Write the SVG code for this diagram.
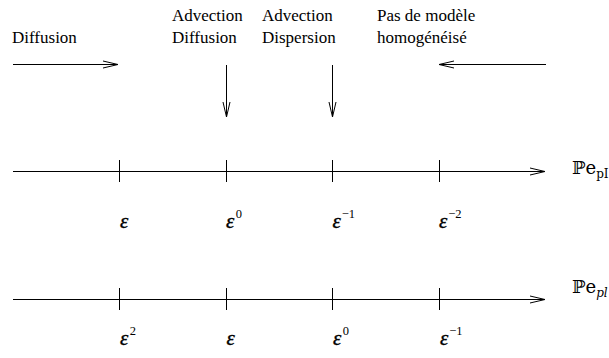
<svg xmlns="http://www.w3.org/2000/svg" width="609" height="358" viewBox="0 0 609 358">
<style>
.ln{stroke:#000;stroke-width:1;fill:none}
.ep{font-style:italic;font-size:21px;stroke:#000;stroke-width:0.4}
.sp{font-size:12.5px}
</style>
<rect width="609" height="358" fill="#fff"/>
<g font-family="'Liberation Serif', Tinos, 'Times New Roman', 'DejaVu Serif', serif" fill="#000">
<g id="labels" font-size="17">
  <g id="lab-diffusion"><text x="12" y="43">Diffusion</text></g>
  <g id="lab-adv-diff"><text x="172" y="21">Advection</text><text x="172" y="43">Diffusion</text></g>
  <g id="lab-adv-disp"><text x="262" y="21">Advection</text><text x="262" y="43">Dispersion</text></g>
  <g id="lab-pas"><text x="377" y="21">Pas de modèle</text><text x="377" y="43">homogénéisé</text></g>
</g>
<g id="connectors">
  <path class="ln" d="M13 64.5H118M103 61L118 64.5L103 68"/>
  <path class="ln" d="M546 64.5H439M454 61L439 64.5L454 68"/>
  <path class="ln" d="M226.5 65V117M223 102L226.5 117L230 102"/>
  <path class="ln" d="M332.5 65V117M329 102L332.5 117L336 102"/>
</g>
<g id="axis1">
  <path class="ln" d="M13 171.5H545M530 168L545 171.5L530 175"/>
  <path class="ln" d="M119.5 160V182M226.5 160V182M332.5 160V182M439.5 160V182"/>
  <text x="572" y="174" font-size="18" font-family="'DejaVu Serif', serif">ℙe<tspan font-size="12" dy="3.5">pI</tspan></text>
</g>
<g id="axis1-labels">
  <text x="120" y="227.5"><tspan class="ep">ε</tspan></text>
  <text x="226" y="227.5"><tspan class="ep">ε</tspan><tspan class="sp" dx="1.5" dy="-10">0</tspan></text>
  <text x="332.5" y="227.5"><tspan class="ep">ε</tspan><tspan class="sp" dx="1" dy="-10">−1</tspan></text>
  <text x="439" y="227.5"><tspan class="ep">ε</tspan><tspan class="sp" dx="1" dy="-10">−2</tspan></text>
</g>
<g id="axis2">
  <path class="ln" d="M13 299.5H545M530 296L545 299.5L530 303"/>
  <path class="ln" d="M119.5 288V310M226.5 288V310M332.5 288V310M439.5 288V310"/>
  <text x="572" y="293" font-size="18" font-family="'DejaVu Serif', serif">ℙe<tspan font-size="12" font-style="italic" dy="3.5">pl</tspan></text>
</g>
<g id="axis2-labels">
  <text x="120" y="344.5"><tspan class="ep">ε</tspan><tspan class="sp" dx="1.5" dy="-10">2</tspan></text>
  <text x="226.5" y="344.5"><tspan class="ep">ε</tspan></text>
  <text x="333" y="344.5"><tspan class="ep">ε</tspan><tspan class="sp" dx="1.5" dy="-10">0</tspan></text>
  <text x="440" y="344.5"><tspan class="ep">ε</tspan><tspan class="sp" dx="1" dy="-10">−1</tspan></text>
</g>
</g>
</svg>
